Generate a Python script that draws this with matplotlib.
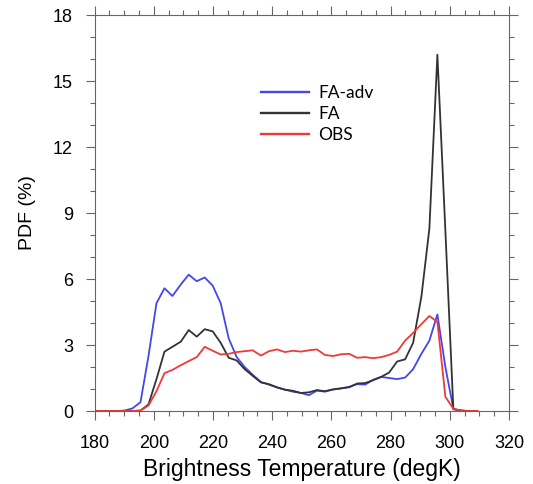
import matplotlib
matplotlib.use("Agg")
import matplotlib.pyplot as plt
from matplotlib.ticker import MultipleLocator

# brightness temperature bin centres (K)
temp = [179.2, 181.9, 184.7, 187.4, 190.1, 192.8, 195.5, 198.2, 200.9, 203.6,
        206.3, 209.1, 211.8, 214.5, 217.2, 219.9, 222.6, 225.3, 228.0, 230.7,
        233.4, 236.2, 238.9, 241.6, 244.3, 247.0, 249.7, 252.4, 255.1, 257.8,
        260.5, 263.3, 266.0, 268.7, 271.4, 274.1, 276.8, 279.5, 282.2, 284.9,
        287.6, 290.4, 293.1, 295.8, 298.5, 301.2, 303.9, 306.6, 309.3]

# PDF (%) per bin
pdf_fa_adv = [0, 0, 0, 0, 0.02, 0.12, 0.4, 2.5, 4.9, 5.58,
              5.23, 5.75, 6.2, 5.9, 6.07, 5.7, 4.9, 3.3, 2.45, 2.0,
              1.65, 1.32, 1.2, 1.07, 0.97, 0.88, 0.82, 0.72, 0.93, 0.88,
              0.98, 1.03, 1.1, 1.22, 1.2, 1.42, 1.55, 1.5, 1.45, 1.52,
              1.9, 2.6, 3.2, 4.39, 2.0, 0.1, 0.02, 0, 0]
pdf_fa = [0, 0, 0, 0, 0, 0, 0.02, 0.3, 1.45, 2.7,
          2.92, 3.15, 3.68, 3.38, 3.72, 3.62, 3.1, 2.42, 2.3, 1.9,
          1.6, 1.3, 1.22, 1.08, 0.97, 0.92, 0.82, 0.85, 0.95, 0.9,
          0.98, 1.03, 1.08, 1.25, 1.27, 1.4, 1.55, 1.75, 2.25, 2.35,
          3.1, 5.2, 8.3, 16.2, 8.2, 0.08, 0.02, 0, 0]
pdf_obs = [0, 0, 0, 0, 0, 0, 0.02, 0.25, 0.9, 1.72,
           1.87, 2.08, 2.27, 2.45, 2.92, 2.74, 2.57, 2.6, 2.68, 2.72,
           2.76, 2.52, 2.72, 2.8, 2.68, 2.74, 2.7, 2.76, 2.8, 2.55,
           2.5, 2.58, 2.6, 2.42, 2.45, 2.4, 2.45, 2.55, 2.7, 3.2,
           3.55, 3.95, 4.32, 4.05, 0.65, 0.1, 0, 0, 0]

xticks = [180, 200, 220, 240, 260, 280, 300, 320]
yticks = [0, 3, 6, 9, 12, 15, 18]

plt.rcParams['font.family'] = ['Liberation Sans', 'DejaVu Sans']

fig = plt.figure(figsize=(5.33, 4.84), dpi=100)
ax = fig.add_axes([0.1775, 0.1508, 0.7775, 0.818])

ax.plot(temp, pdf_fa_adv, color='#4646ea', lw=1.3, label='FA-adv')
ax.plot(temp, pdf_fa, color='#333333', lw=1.3, label='FA')
ax.plot(temp, pdf_obs, color='#ee3a3a', lw=1.3, label='OBS')

ax.set_xlim(180, 320)
ax.set_ylim(0, 18)
ax.set_xticks(xticks)
ax.set_yticks(yticks)
ax.xaxis.set_minor_locator(MultipleLocator(5))
ax.yaxis.set_minor_locator(MultipleLocator(1))

for s in ax.spines.values():
    s.set_color('#666666')
    s.set_linewidth(0.8)
ax.tick_params(which='both', direction='out', top=True, right=True,
               color='#666666', width=0.8, labelsize=13)
ax.tick_params(which='major', length=6.5)
ax.tick_params(which='minor', length=3.5)
ax.tick_params(axis='x', which='major', pad=11)
ax.tick_params(axis='y', which='major', pad=9)

ax.set_xlabel('Brightness Temperature (degK)', fontsize=16.5, labelpad=4)
ax.set_ylabel('PDF (%)', fontsize=14, labelpad=12)

leg = ax.legend(loc='upper left', bbox_to_anchor=(0.38, 0.845), frameon=False,
                handlelength=2.8, handletextpad=0.5, labelspacing=0.29,
                borderpad=0, prop={'family': 'Lato', 'size': 12.5})
for line in leg.get_lines():
    line.set_linewidth(1.7)

fig.savefig('out.png', dpi=100)
